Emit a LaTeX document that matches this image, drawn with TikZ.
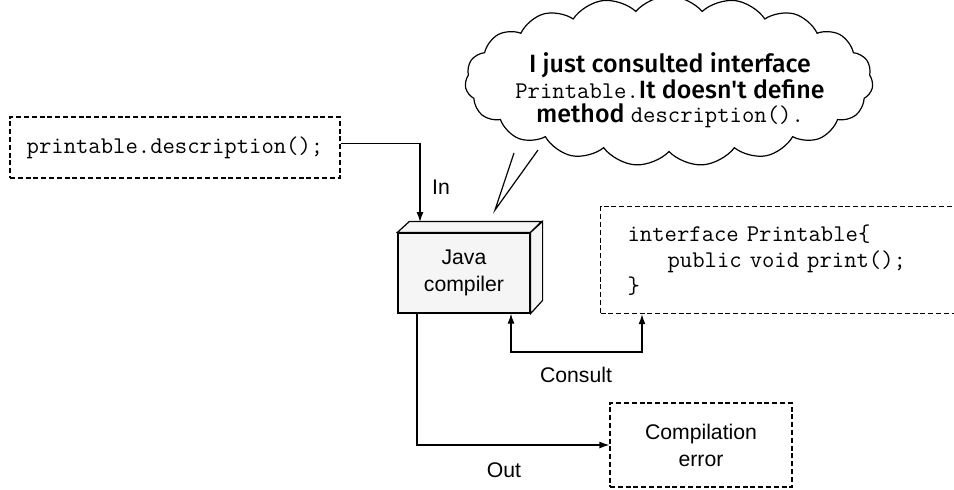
\documentclass[tikz,border=0pt]{standalone}
\usepackage{fontspec}
\setmainfont{Liberation Sans}
\newfontfamily\handfont{Fira Sans Medium}
\usetikzlibrary{arrows.meta, shapes.symbols}

\tikzset{
  dashbox/.style={draw, dash pattern=on 2.5pt off 1.4pt, line width=0.6pt},
  link/.style={line width=0.6pt, -{Latex[length=5pt,width=3.5pt]}},
  twoway/.style={line width=0.6pt, {Latex[length=5pt,width=3.5pt]}-{Latex[length=5pt,width=3.5pt]}},
  code/.style={font=\ttfamily\fontsize{12}{13}\selectfont},
}

\begin{document}
\begin{tikzpicture}[x=0.5pt, y=-0.5pt, every node/.style={font=\fontsize{10.6}{13.5}\selectfont}]
    \useasboundingbox (0,0) rectangle (954,489);

    % method call
    \node[dashbox, code, minimum width=165pt, minimum height=30.5pt] (call) at (175,147.5) {printable.description();};

    % Java compiler box
    \node[draw, fill=gray!8, line width=0.6pt, minimum width=66pt, minimum height=40pt, align=center] (compiler) at (464,273) {Java\\compiler};
    \draw[fill=gray!8, line width=0.6pt] (compiler.north west) -- ++(12,-11) -- ++(132,0) -- (compiler.north east) -- cycle;
    \draw[fill=gray!8, line width=0.6pt] (compiler.north east) -- ++(12,-11) -- ++(0,79) -- (compiler.south east) -- cycle;

    % interface
    \node[dashbox, code, anchor=north west, minimum width=180pt, minimum height=53.5pt, inner xsep=13.5pt, text width=153pt, align=left] (iface) at (600,206)
        {interface Printable\{\\\hspace*{20pt}public void print();\\\}};

    % compilation error
    \node[dashbox, minimum width=91pt, minimum height=42pt, align=center] (err) at (701,445) {Compilation\\error};

    % thought bubble
    \node[cloud, draw, fill=white, line width=0.6pt, cloud puffs=19, cloud puff arc=100, cloud ignores aspect, minimum width=204pt, minimum height=85pt] (bubble) at (669,81) {};
    \coordinate (tip) at (495,210);
    \coordinate (t1) at (514,153);
    \coordinate (t2) at (538,150);
    \fill[white] (t1) -- (tip) -- (t2) -- cycle;
    \draw[line width=0.6pt] (t1) -- (tip) -- (t2);
    \node[align=center, font=\handfont\fontsize{12.5}{11.6}\selectfont] (thought) at (670,90)
        {I just consulted interface\\
         {\ttfamily\fontsize{12}{11.6}\selectfont Printable.}It doesn't define\\
         method {\ttfamily\fontsize{12}{11.6}\selectfont description().}};

    % in
    \coordinate (in) at (420,222);
    \draw[link] ([yshift=2pt]call.east) -| (in);
    \node (inlabel) at (441,187) {In};

    % consult
    \coordinate (cbend) at (511,352);
    \coordinate (ibend) at (642,352);
    \draw[twoway] (cbend |- compiler.south) -- (cbend) -- (ibend) -- (ibend |- iface.south);
    \node (consultlabel) at (576,375) {Consult};

    % out
    \coordinate (obend) at (417,445);
    \draw[link] (obend |- compiler.south) -- (obend) -- (err.west);
    \node (outlabel) at (504,470) {Out};

\end{tikzpicture}
\end{document}
